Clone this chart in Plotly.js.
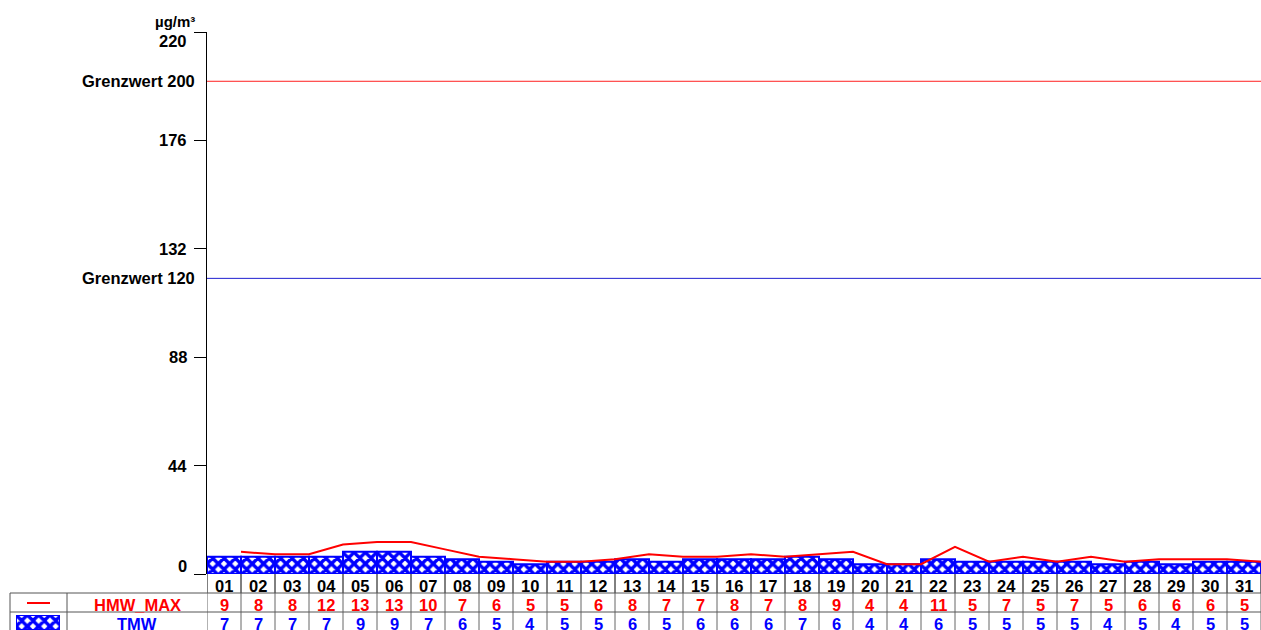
<!DOCTYPE html>
<html><head><meta charset="utf-8">
<script src="https://cdn.plot.ly/plotly-3.0.1.min.js"></script>
<style>html,body{margin:0;padding:0;background:#fff}#chart{width:1261px;height:630px}</style>
</head><body><div id="chart"></div>
<script>
const days = [1,2,3,4,5,6,7,8,9,10,11,12,13,14,15,16,17,18,19,20,21,22,23,24,25,26,27,28,29,30,31];
const dayLabels = ["01","02","03","04","05","06","07","08","09","10","11","12","13","14","15","16","17","18","19","20","21","22","23","24","25","26","27","28","29","30","31"];
const hmwMax = [9,8,8,12,13,13,10,7,6,5,5,6,8,7,7,8,7,8,9,4,4,11,5,7,5,7,5,6,6,6,5];
const tmw = [7,7,7,7,9,9,7,6,5,4,5,5,6,5,6,6,6,7,6,4,4,6,5,5,5,5,4,5,4,5,5];
const yTicks = [0,44,88,132,176,220];
const limits = [{value:200, label:"Grenzwert 200", color:"#ff2020"}, {value:120, label:"Grenzwert 120", color:"#2020d0"}];
const unit = "µg/m³";
const seriesNames = ["HMW_MAX","TMW"];

const W = 1261, H = 630;
const px = x => x / W;          // pixel -> paper x
const py = y => (H - y) / H;    // pixel -> paper y
const FONT = "Arial, 'Liberation Sans', sans-serif";
const FS = 16.5;
const BLUE = "#0000ff", RED = "#ff0000";

const pattern = {shape:"x", fgcolor:BLUE, bgcolor:"#ffffff", size:8, solidity:0.68, fillmode:"replace"};

const traces = [
  {type:"bar", x:days, y:tmw, width:1, xaxis:"x", yaxis:"y",
   marker:{color:"#ffffff", pattern:pattern, line:{color:BLUE, width:2}}, hoverinfo:"skip"},
  {type:"scatter", mode:"lines", x:days.map(d => d + 0.5), y:hmwMax, xaxis:"x", yaxis:"y",
   line:{color:RED, width:2}, hoverinfo:"skip"},
  // legend swatch for TMW
  {type:"bar", x:[0], y:[1], width:1, xaxis:"x2", yaxis:"y2",
   marker:{color:"#ffffff", pattern:pattern, line:{color:BLUE, width:2}}, hoverinfo:"skip"}
];

const shapes = [];
const annotations = [];
const txt = (color) => ({family:FONT, size:FS, color:color, weight:"bold"});

// limit lines
limits.forEach(l => {
  shapes.push({type:"line", xref:"paper", x0:px(207), x1:1, yref:"y", y0:l.value, y1:l.value,
    line:{color:l.color, width:1}});
  annotations.push({xref:"paper", x:px(207), xshift:-10, xanchor:"right", yref:"y", y:l.value,
    yanchor:"middle", text:l.label, showarrow:false, font:txt("#000")});
});

// y tick labels
yTicks.forEach((v, i) => {
  let ys = 0;
  if (i === yTicks.length - 1) ys = -9;
  if (i === 0) ys = 8;
  annotations.push({xref:"paper", x:px(207), xshift:-18, xanchor:"right", yref:"y", y:v, yshift:ys,
    yanchor:"middle", text:String(v), showarrow:false, font:txt("#000")});
});
annotations.push({xref:"paper", x:px(207), xshift:-10, xanchor:"right", yref:"paper", y:py(22),
  yanchor:"middle", text:unit, showarrow:false, font:{family:FONT, size:15, color:"#000", weight:"bold"}});

// table rows
const rowDay = py(586), rowH = py(605), rowT = py(624);
days.forEach((d, i) => {
  annotations.push({xref:"x", x:d, yref:"paper", y:rowDay, yanchor:"middle", text:dayLabels[i], showarrow:false,
    font:txt("#000")});
  annotations.push({xref:"x", x:d, yref:"paper", y:rowH, yanchor:"middle", text:String(hmwMax[i]), showarrow:false,
    font:txt(RED)});
  annotations.push({xref:"x", x:d, yref:"paper", y:rowT, yanchor:"middle", text:String(tmw[i]), showarrow:false,
    font:txt(BLUE)});
});
annotations.push({xref:"paper", x:px(137), xanchor:"center", yref:"paper", y:rowH, yanchor:"middle",
  text:seriesNames[0], showarrow:false, font:txt(RED)});
annotations.push({xref:"paper", x:px(137), xanchor:"center", yref:"paper", y:rowT, yanchor:"middle",
  text:seriesNames[1], showarrow:false, font:txt(BLUE)});

// table grid
[0].concat(days).forEach(d => {
  shapes.push({type:"line", xref:"x", x0:d + 0.5, x1:d + 0.5, yref:"paper", y0:py(574), y1:py(593),
    line:{color:"#000", width:1}});
  shapes.push({type:"line", xref:"x", x0:d + 0.5, x1:d + 0.5, yref:"paper", y0:py(593), y1:0,
    line:{color:"#666", width:1}});
});
[593, 612].forEach(yp => {
  shapes.push({type:"line", xref:"paper", x0:px(10), x1:1, yref:"paper", y0:py(yp), y1:py(yp),
    line:{color:"#555", width:1}});
});
[10, 67].forEach(xp => {
  shapes.push({type:"line", xref:"paper", x0:px(xp), x1:px(xp), yref:"paper", y0:py(593), y1:0,
    line:{color:"#555", width:1}});
});
// HMW legend icon
shapes.push({type:"line", xref:"paper", x0:px(27), x1:px(50), yref:"paper", y0:py(603), y1:py(603),
  line:{color:RED, width:2}});

const layout = {
  width:W, height:H, margin:{l:0, r:0, t:0, b:0},
  paper_bgcolor:"#fff", plot_bgcolor:"rgba(0,0,0,0)",
  showlegend:false, bargap:0,
  xaxis:{domain:[px(207), 1], range:[0.5, 31.5], showline:false, showgrid:false, zeroline:false,
    showticklabels:false, ticks:"", fixedrange:true},
  yaxis:{domain:[py(574), py(32)], range:[0, 220], tickvals:yTicks, ticks:"outside", ticklen:12,
    tickcolor:"#000", showticklabels:false, showline:true, linecolor:"#000", linewidth:1,
    showgrid:false, zeroline:false, fixedrange:true},
  xaxis2:{domain:[px(16), px(60)], range:[-0.5, 0.5], anchor:"y2", visible:false, fixedrange:true},
  yaxis2:{domain:[0, py(615)], range:[0, 1], anchor:"x2", visible:false, fixedrange:true},
  shapes:shapes, annotations:annotations
};

Plotly.newPlot("chart", traces, layout, {staticPlot:true, displayModeBar:false});
</script></body></html>
